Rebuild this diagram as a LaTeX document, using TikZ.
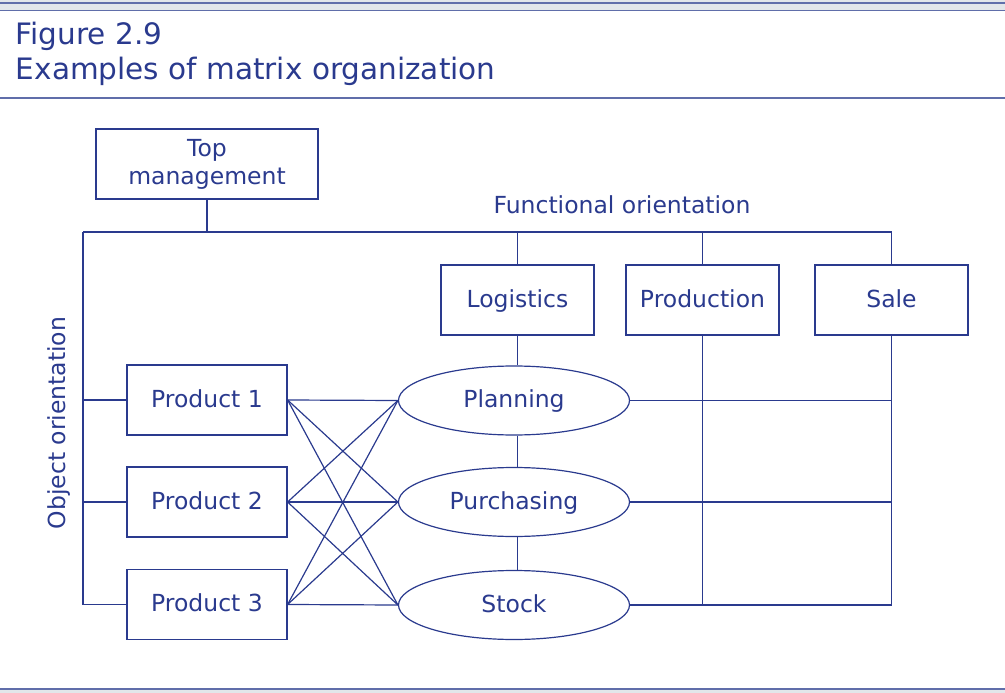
\documentclass[tikz,border=0pt]{standalone}
\usepackage{fontspec}
\setmainfont{DejaVu Sans}
\usepackage{tikz}
\usetikzlibrary{shapes.geometric}
\usetikzlibrary{positioning}

\definecolor{inkblue}{RGB}{42,58,142}
\definecolor{bandgrey}{RGB}{226,230,234}
\definecolor{ruleblue}{RGB}{96,110,170}

\begin{document}
\begin{tikzpicture}
    [
    x=1pt, y=-1pt,
    color=inkblue, line width=1.2pt,
    every node/.style={font=\fontsize{23.5}{28}\selectfont},
    box/.style={rectangle, draw, inner sep=0pt, minimum width=153pt, minimum height=70pt, align=center},
    unit/.style={box, text height=18pt, text depth=4pt},
    prodbox/.style={unit, minimum width=160pt},
    task/.style={ellipse, draw, inner sep=0pt, minimum width=231pt, minimum height=69pt,
      text height=18pt, text depth=4pt},
    title/.style={anchor=base west, font=\fontsize{29.5}{35}\selectfont},
    rule/.style={draw=ruleblue, line width=1.4pt},
    ]
    \useasboundingbox (0,0) rectangle (1005,693);
    \fill [bandgrey] (0,0) rectangle (1005,11);
    \fill [bandgrey] (0,689) rectangle (1005,693);
    \draw [rule] (0,3) -- (1005,3);
    \draw [rule] (0,10.5) -- (1005,10.5);
    \draw [rule] (0,98) -- (1005,98);
    \draw [rule] (0,689) -- (1005,689);
    \node (fig) at (12,45) [title] {Figure 2.9};
    \node (caption) at (12,80) [title] {Examples of matrix organization};

    \node (top) at (207,164) [box, minimum width=222pt] {Top\\management};
    \node (func) at (622,205) {Functional orientation};
    \node (obj) at (59,423) [rotate=90] {Object orientation};

    \node (log) at (517.5,300) [unit] {Logistics};
    \node (prod) at (702.5,300) [unit] {Production};
    \node (sale) at (891.5,300) [unit] {Sale};

    \node (p1) at (207,400) [prodbox] {Product 1};
    \node (p2) at (207,502) [prodbox] {Product 2};
    \node (p3) at (207,604.5) [prodbox] {Product 3};

    \node (plan) at (514,400.5) [task] {Planning};
    \node (purch) at (514,502) [task] {Purchasing};
    \node (stock) at (514,605) [task] {Stock};

    \coordinate (busL) at (83,232);
    \draw (top.south) to (top.south |- busL);
    \draw (busL) -- (sale.north |- busL) -- (sale.north);
    \draw (log.north |- busL) to (log.north);
    \draw (prod.north |- busL) to (prod.north);
    \draw (busL) |- (p3.west);
    \draw (busL |- p1) to (p1.west);
    \draw (busL |- p2) to (p2.west);

    \draw (log.south) to (log.south |- plan.north);
    \draw (log.south |- plan.south) to (log.south |- purch.north);
    \draw (log.south |- purch.south) to (log.south |- stock.north);

    \foreach \a in {p1,p2,p3}
      \foreach \b in {plan,purch,stock}
        \draw (\a.east) to (\b.west);

    \draw (plan.east) to (plan.east -| sale.south);
    \draw (purch.east) to (purch.east -| sale.south);
    \draw (stock.east) -- (stock.east -| sale.south) -- (sale.south);
    \draw (prod.south) to (prod.south |- stock.east);
  \end{tikzpicture}
\end{document}
